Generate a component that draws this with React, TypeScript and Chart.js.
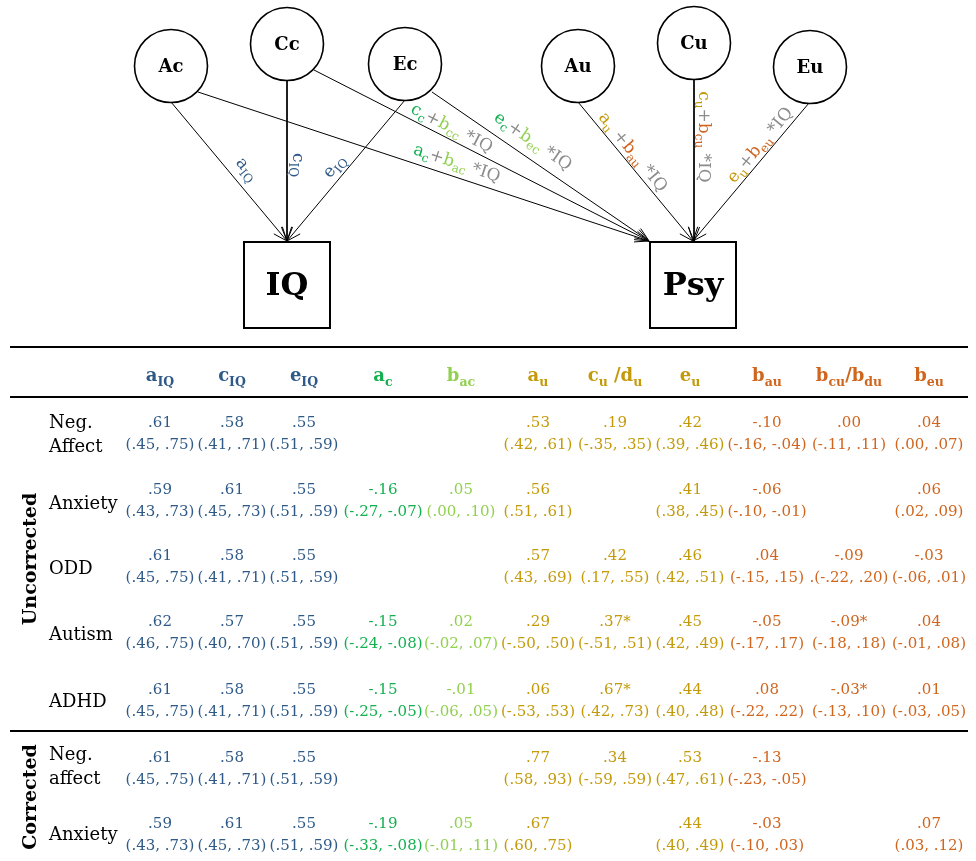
import React, { useEffect, useRef } from "react";
import { Chart, registerables } from "chart.js";
Chart.register(...registerables);

const FONT = '"DejaVu Serif", "Liberation Serif", serif';
const BLUE = "#2F5A88";
const GREEN = "#14B050";
const LGREEN = "#92D050";
const GRAY = "#8C8C8C";
const GOLD = "#C49A0A";
const ORANGE = "#D0651E";

// ---------- Diagram ----------
const nodeNames = ["Ac", "Cc", "Ec", "Au", "Cu", "Eu"];
const nodeX = [171, 287, 405, 578, 694, 810];
const nodeY = [66, 44, 64, 66, 43, 67];
const boxNames = ["IQ", "Psy"];
const boxX = [287, 693];
const boxY = [285, 285];

// paths: start point on the latent circle -> end point on the observed box
const edgeX1 = [171, 287, 405, 198, 314, 432, 578, 694, 809];
const edgeY1 = [102, 80, 100, 92, 70, 92, 102, 79, 103];
const edgeX2 = [287, 287, 287, 649, 649, 649, 693, 694, 693];
const edgeY2 = [241, 241, 241, 241, 241, 241, 241, 241, 241];

type Seg = [string, string, number?];
const pathLabels: Seg[][] = [
  [["a", BLUE], ["IQ", BLUE, 1]],
  [["c", BLUE], ["IQ", BLUE, 1]],
  [["e", BLUE], ["IQ", BLUE, 1]],
  [["a", GREEN], ["c", GREEN, 1], ["+", GRAY], ["b", LGREEN], ["ac", LGREEN, 1], [" *IQ", GRAY]],
  [["c", GREEN], ["c", GREEN, 1], ["+", GRAY], ["b", LGREEN], ["cc", LGREEN, 1], [" *IQ", GRAY]],
  [["e", GREEN], ["c", GREEN, 1], ["+", GRAY], ["b", LGREEN], ["ec", LGREEN, 1], [" *IQ", GRAY]],
  [["a", GOLD], ["u", GOLD, 1], [" +", GRAY], ["b", ORANGE], ["au", ORANGE, 1], [" *IQ", GRAY]],
  [["c", GOLD], ["u", GOLD, 1], ["+", GRAY], ["b", ORANGE], ["cu", ORANGE, 1], [" *IQ", GRAY]],
  [["e", GOLD], ["u", GOLD, 1], ["+", GRAY], ["b", ORANGE], ["eu", ORANGE, 1], [" *IQ", GRAY]],
];
const pathLabelX = [247, 298, 334, 457, 452, 533, 633, 704, 760];
const pathLabelY = [169, 165, 166, 163, 128, 141, 152, 137, 145];
const pathLabelAngle = [50, 90, -50, 18.3, 27, 34.5, 50.4, 90, -50];

// ---------- Table ----------
const headers: Seg[][] = [
  [["a", BLUE], ["IQ", BLUE, 1]],
  [["c", BLUE], ["IQ", BLUE, 1]],
  [["e", BLUE], ["IQ", BLUE, 1]],
  [["a", GREEN], ["c", GREEN, 1]],
  [["b", LGREEN], ["ac", LGREEN, 1]],
  [["a", GOLD], ["u", GOLD, 1]],
  [["c", GOLD], ["u", GOLD, 1], [" /d", GOLD], ["u", GOLD, 1]],
  [["e", GOLD], ["u", GOLD, 1]],
  [["b", ORANGE], ["au", ORANGE, 1]],
  [["b", ORANGE], ["cu", ORANGE, 1], ["/b", ORANGE], ["du", ORANGE, 1]],
  [["b", ORANGE], ["eu", ORANGE, 1]],
];
const columnColors = [BLUE, BLUE, BLUE, GREEN, LGREEN, GOLD, GOLD, GOLD, ORANGE, ORANGE, ORANGE];

const rowLabels = [["Neg.", "Affect"], ["Anxiety"], ["ODD"], ["Autism"], ["ADHD"], ["Neg.", "affect"], ["Anxiety"]];
const groupLabels = ["Uncorrected", "Corrected"];

type Cell = [string, string] | null;
const aIQ: Cell[] = [[".61", "(.45, .75)"], [".59", "(.43, .73)"], [".61", "(.45, .75)"], [".62", "(.46, .75)"], [".61", "(.45, .75)"], [".61", "(.45, .75)"], [".59", "(.43, .73)"]];
const cIQ: Cell[] = [[".58", "(.41, .71)"], [".61", "(.45, .73)"], [".58", "(.41, .71)"], [".57", "(.40, .70)"], [".58", "(.41, .71)"], [".58", "(.41, .71)"], [".61", "(.45, .73)"]];
const eIQ: Cell[] = [[".55", "(.51, .59)"], [".55", "(.51, .59)"], [".55", "(.51, .59)"], [".55", "(.51, .59)"], [".55", "(.51, .59)"], [".55", "(.51, .59)"], [".55", "(.51, .59)"]];
const aC: Cell[] = [null, ["-.16", "(-.27, -.07)"], null, ["-.15", "(-.24, -.08)"], ["-.15", "(-.25, -.05)"], null, ["-.19", "(-.33, -.08)"]];
const bAC: Cell[] = [null, [".05", "(.00, .10)"], null, [".02", "(-.02, .07)"], ["-.01", "(-.06, .05)"], null, [".05", "(-.01, .11)"]];
const aU: Cell[] = [[".53", "(.42, .61)"], [".56", "(.51, .61)"], [".57", "(.43, .69)"], [".29", "(-.50, .50)"], [".06", "(-.53, .53)"], [".77", "(.58, .93)"], [".67", "(.60, .75)"]];
const cU: Cell[] = [[".19", "(-.35, .35)"], null, [".42", "(.17, .55)"], [".37*", "(-.51, .51)"], [".67*", "(.42, .73)"], [".34", "(-.59, .59)"], null];
const eU: Cell[] = [[".42", "(.39, .46)"], [".41", "(.38, .45)"], [".46", "(.42, .51)"], [".45", "(.42, .49)"], [".44", "(.40, .48)"], [".53", "(.47, .61)"], [".44", "(.40, .49)"]];
const bAU: Cell[] = [["-.10", "(-.16, -.04)"], ["-.06", "(-.10, -.01)"], [".04", "(-.15, .15)"], ["-.05", "(-.17, .17)"], [".08", "(-.22, .22)"], ["-.13", "(-.23, -.05)"], ["-.03", "(-.10, .03)"]];
const bCU: Cell[] = [[".00", "(-.11, .11)"], null, ["-.09", ".(-.22, .20)"], ["-.09*", "(-.18, .18)"], ["-.03*", "(-.13, .10)"], null, null];
const bEU: Cell[] = [[".04", "(.00, .07)"], [".06", "(.02, .09)"], ["-.03", "(-.06, .01)"], [".04", "(-.01, .08)"], [".01", "(-.03, .05)"], null, [".07", "(.03, .12)"]];
const columns = [aIQ, cIQ, eIQ, aC, bAC, aU, cU, eU, bAU, bCU, bEU];

// layout (kept apart from the values)
const colX = [160, 232, 304, 383, 461, 538, 615, 690, 767, 849, 929];
const rowY = [421, 488, 554, 620, 688, 756, 822];
const ciGap = 22;
const rowLabelY = [421, 502, 567, 633, 700, 753, 833];
const groupLabelY = [559, 797];
const ruleY = [347, 397, 731];

function fnt(size: number, bold: boolean) {
  return `${bold ? "bold " : ""}${size}px ${FONT}`;
}

function drawRich(ctx: CanvasRenderingContext2D, segs: Seg[], x: number, y: number, angle: number, main: number, sub: number, bold: boolean, centerV: boolean) {
  ctx.save();
  ctx.translate(x, y);
  ctx.rotate((angle * Math.PI) / 180);
  ctx.textAlign = "left";
  ctx.textBaseline = "alphabetic";
  const widths = segs.map((s) => {
    ctx.font = fnt(s[2] ? sub : main, bold);
    return ctx.measureText(s[0]).width;
  });
  const total = widths.reduce((a, b) => a + b, 0);
  let cx = -total / 2;
  const base = centerV ? main * 0.3 : 0;
  segs.forEach((s, i) => {
    ctx.font = fnt(s[2] ? sub : main, bold);
    ctx.fillStyle = s[1];
    ctx.fillText(s[0], cx, base + (s[2] ? main * 0.25 : 0));
    cx += widths[i];
  });
  ctx.restore();
}

const textPlugin = {
  id: "diagramText",
  afterDatasetsDraw(chart: any) {
    const ctx: CanvasRenderingContext2D = chart.ctx;
    const xs = chart.scales.x;
    const ys = chart.scales.y;
    const px = (v: number) => xs.getPixelForValue(v);
    const py = (v: number) => ys.getPixelForValue(v);
    ctx.save();

    // arrowheads
    ctx.strokeStyle = "#000";
    ctx.lineWidth = 1;
    for (let i = 0; i < edgeX1.length; i++) {
      const x1 = px(edgeX1[i]), y1 = py(edgeY1[i]), x2 = px(edgeX2[i]), y2 = py(edgeY2[i]);
      const a = Math.atan2(y2 - y1, x2 - x1);
      const L = 15;
      for (const d of [-0.38, 0.38]) {
        ctx.beginPath();
        ctx.moveTo(x2, y2);
        ctx.lineTo(x2 - L * Math.cos(a + d), y2 - L * Math.sin(a + d));
        ctx.stroke();
      }
    }

    // node and box names
    ctx.fillStyle = "#000";
    ctx.textAlign = "center";
    ctx.textBaseline = "middle";
    ctx.font = fnt(18, true);
    nodeNames.forEach((n, i) => ctx.fillText(n, px(nodeX[i]), py(nodeY[i]) + 1));
    ctx.font = fnt(32, true);
    boxNames.forEach((n, i) => ctx.fillText(n, px(boxX[i]), py(boxY[i]) + 2));

    // path labels
    pathLabels.forEach((segs, i) =>
      drawRich(ctx, segs, px(pathLabelX[i]), py(pathLabelY[i]), pathLabelAngle[i], 17, 12, false, true)
    );

    // headers
    headers.forEach((segs, i) => drawRich(ctx, segs, px(colX[i]), py(381), 0, 18, 12.5, true, false));

    // row labels
    ctx.textAlign = "left";
    ctx.textBaseline = "alphabetic";
    ctx.fillStyle = "#000";
    ctx.font = fnt(18, false);
    rowLabels.forEach((lines, r) => {
      lines.forEach((t, k) => ctx.fillText(t, px(49), py(rowLabelY[r] + k * 24) + 6.5));
    });

    // group labels
    ctx.font = fnt(19, true);
    ctx.textAlign = "center";
    groupLabels.forEach((g, i) => {
      ctx.save();
      ctx.translate(px(29), py(groupLabelY[i]));
      ctx.rotate(-Math.PI / 2);
      ctx.fillText(g, 0, 7);
      ctx.restore();
    });

    // cells
    ctx.font = fnt(15, false);
    ctx.textAlign = "center";
    columns.forEach((col, c) => {
      ctx.fillStyle = columnColors[c];
      col.forEach((cell, r) => {
        if (!cell) return;
        ctx.fillText(cell[0], px(colX[c]), py(rowY[r]) + 5.5);
        ctx.fillText(cell[1], px(colX[c]), py(rowY[r] + ciGap) + 5.5);
      });
    });
    ctx.restore();
  },
};

export default function App() {
  const ref = useRef<HTMLCanvasElement | null>(null);
  useEffect(() => {
    document.body.style.margin = "0";
    const canvas = ref.current!;
    const datasets: any[] = [];
    datasets.push({
      label: "latent",
      data: nodeX.map((x, i) => ({ x, y: nodeY[i] })),
      pointRadius: 36.5,
      pointHoverRadius: 36.5,
      pointBackgroundColor: "#fff",
      pointBorderColor: "#000",
      pointBorderWidth: 1.6,
      order: 0,
    });
    datasets.push({
      label: "observed",
      data: boxX.map((x, i) => ({ x, y: boxY[i] })),
      pointStyle: "rect",
      pointRadius: 43 / Math.SQRT1_2,
      pointHoverRadius: 43 / Math.SQRT1_2,
      pointBackgroundColor: "#fff",
      pointBorderColor: "#000",
      pointBorderWidth: 2,
      order: 0,
    });
    edgeX1.forEach((x, i) => {
      datasets.push({
        label: "path" + i,
        data: [{ x, y: edgeY1[i] }, { x: edgeX2[i], y: edgeY2[i] }],
        showLine: true,
        borderColor: "#000",
        borderWidth: 1,
        pointRadius: 0,
        order: 1,
      });
    });
    ruleY.forEach((y, i) => {
      datasets.push({
        label: "rule" + i,
        data: [{ x: 10, y }, { x: 968, y }],
        showLine: true,
        borderColor: "#000",
        borderWidth: 2.2,
        pointRadius: 0,
        order: 1,
      });
    });
    const chart = new Chart(canvas, {
      type: "scatter",
      data: { datasets },
      options: {
        animation: false,
        responsive: false,
        devicePixelRatio: 1,
        layout: { padding: 0, autoPadding: false },
        events: [],
        plugins: { legend: { display: false }, tooltip: { enabled: false } },
        scales: {
          x: { type: "linear", min: 0, max: 976, display: false },
          y: { type: "linear", min: 0, max: 861, reverse: true, display: false },
        },
      },
      plugins: [textPlugin],
    } as any);
    return () => chart.destroy();
  }, []);
  return <canvas ref={ref} width={976} height={861} style={{ display: "block" }} />;
}
